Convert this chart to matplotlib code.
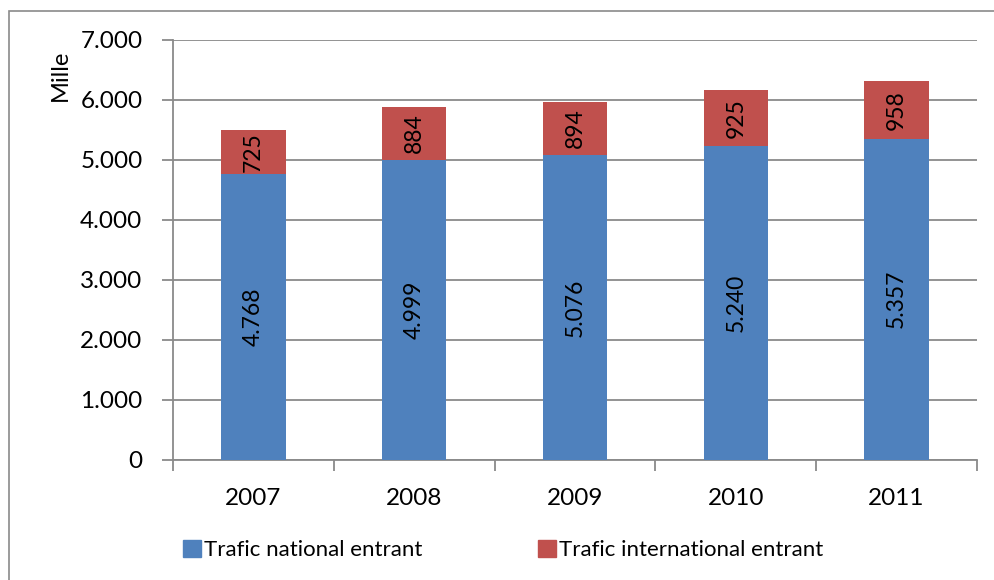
import matplotlib
matplotlib.use("Agg")
import matplotlib.pyplot as plt
from matplotlib.patches import Rectangle, Patch
import numpy as np

years = ["2007", "2008", "2009", "2010", "2011"]
national = [4768, 4999, 5076, 5240, 5357]
international = [725, 884, 894, 925, 958]
national_labels = ["4.768", "4.999", "5.076", "5.240", "5.357"]
international_labels = ["725", "884", "894", "925", "958"]
yticks = [0, 1000, 2000, 3000, 4000, 5000, 6000, 7000]
ytick_labels = ["0", "1.000", "2.000", "3.000", "4.000", "5.000", "6.000", "7.000"]

plt.rcParams['font.family'] = ['Lato', 'DejaVu Sans']

W, H = 994, 580
fig = plt.figure(figsize=(W / 100, H / 100), dpi=100)
fig.patch.set_facecolor("white")

# outer chart border
fig.patches.append(Rectangle((9 / W, -0.05), 1.1, 1 - 11 / H + 0.05,
                             transform=fig.transFigure, fill=False,
                             edgecolor="#8a8a8a", linewidth=1.2))

ax = fig.add_axes([173 / W, 1 - 460 / H, (977 - 173) / W, (460 - 40) / H])
blue = "#4F81BD"
red = "#C0504D"
grid_c = "#8a8a8a"

x = np.arange(len(years))
bw = 0.4
ax.bar(x, national, bw, color=blue, zorder=3, label="Trafic national entrant")
ax.bar(x, international, bw, bottom=national, color=red, zorder=3,
       label="Trafic international entrant")

for i in range(len(years)):
    ax.text(x[i], national[i] / 2, national_labels[i], rotation=90,
            ha="center", va="center", fontsize=16.5, color="black", zorder=4)
    ax.text(x[i], national[i] + international[i] / 2, international_labels[i],
            rotation=90, ha="center", va="center", fontsize=16.5, color="black", zorder=4)

ax.set_xlim(-0.5, len(years) - 0.5)
ax.set_ylim(0, 7000)
ax.set_yticks(yticks)
ax.set_yticklabels(ytick_labels)
ax.yaxis.grid(True, color=grid_c, linewidth=1.3, zorder=0)
ax.set_axisbelow(True)

ax.set_xticks(x)
ax.set_xticklabels(years)
ax.set_xticks(np.arange(-0.5, len(years), 1.0), minor=True)
ax.tick_params(axis="x", which="major", length=0, pad=20, labelsize=17.5)
ax.tick_params(axis="x", which="minor", length=8, width=1.3, color=grid_c, direction="out")
ax.tick_params(axis="y", length=8, width=1.3, color=grid_c, direction="out", pad=14, labelsize=17.5)

for s in ["top", "right"]:
    ax.spines[s].set_visible(False)
for s in ["left", "bottom"]:
    ax.spines[s].set_color(grid_c)
    ax.spines[s].set_linewidth(1.3)

fig.text(60 / W, 1 - 75 / H, "Mille", rotation=90, ha="center", va="center", fontsize=17)

handles = [Patch(color=blue), Patch(color=red)]
fig.legend(handles, ["Trafic national entrant", "Trafic international entrant"],
           loc="center left", bbox_to_anchor=(183 / W, 1 - 550 / H), ncol=2,
           frameon=False, fontsize=16, handlelength=0.8, handleheight=0.8,
           handletextpad=0.15, columnspacing=5.2, borderpad=0, borderaxespad=0)

fig.savefig("out.png", dpi=100)
